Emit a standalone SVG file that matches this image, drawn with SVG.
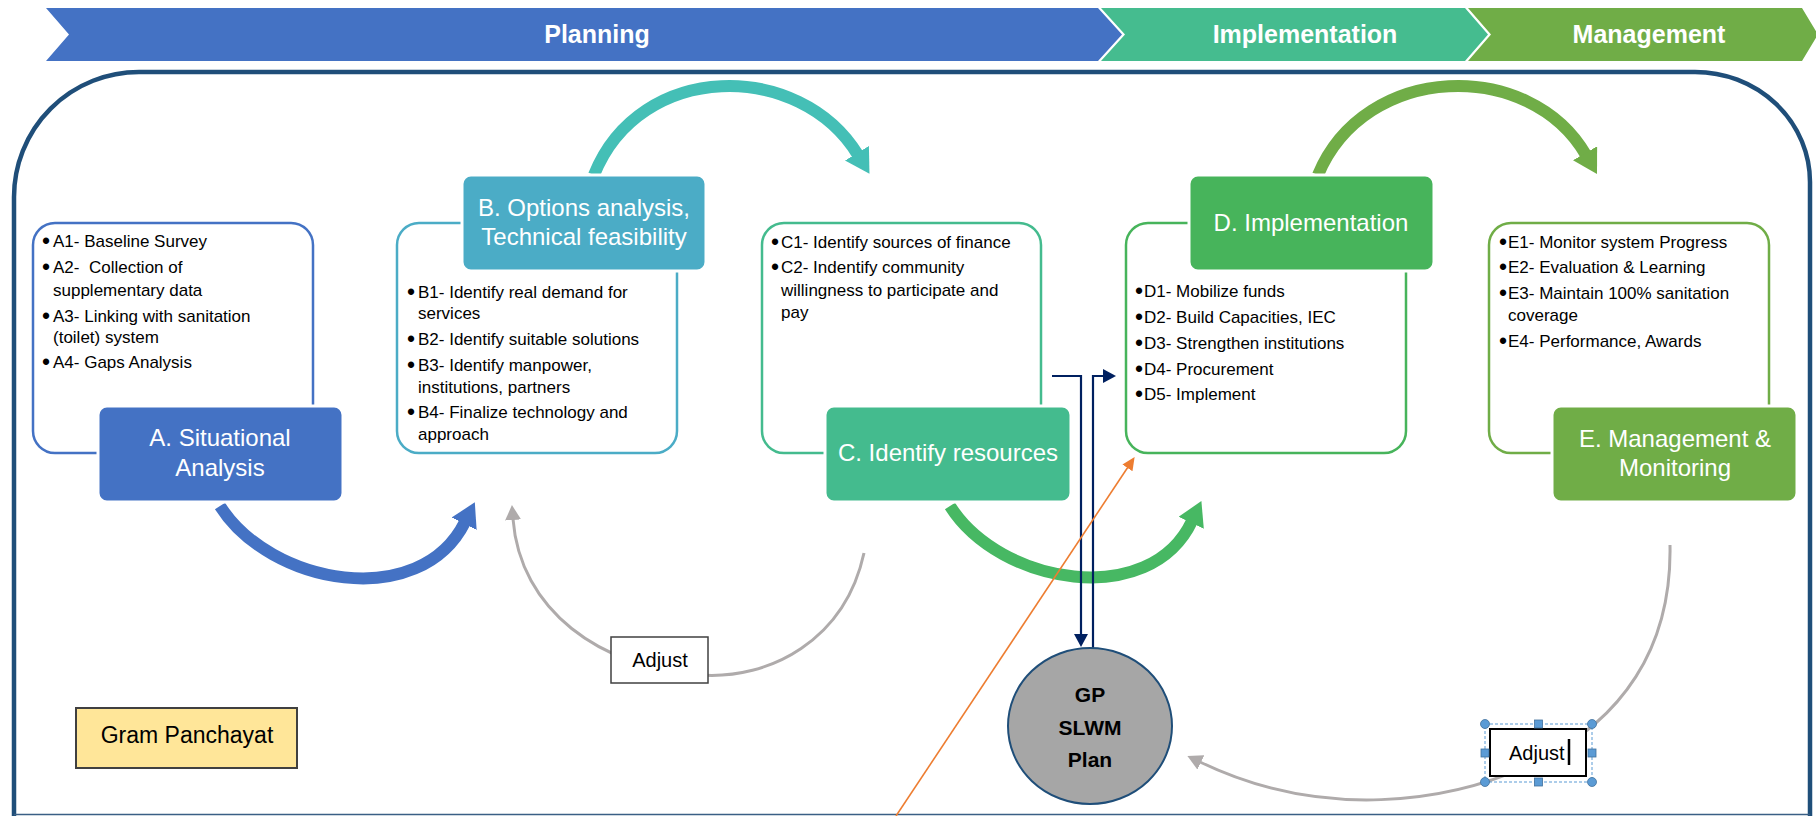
<svg xmlns="http://www.w3.org/2000/svg" width="1816" height="816" viewBox="0 0 1816 816">
<defs>
<style>
.bt{font-family:"Liberation Sans",Arial,sans-serif;font-weight:bold;font-size:25px;fill:#fff;text-anchor:middle}
.hd{font-family:"Liberation Sans",Arial,sans-serif;font-size:24px;fill:#fff;text-anchor:middle}
.li{font-family:"Liberation Sans",Arial,sans-serif;font-size:17px;fill:#000}
.bu{font-size:23px}
.det{fill:#fff;stroke-width:2.5}
.hdr{stroke:#fff;stroke-width:3}
.adj{font-family:"Liberation Sans",Arial,sans-serif;font-size:20px;fill:#000}
.gray{fill:none;stroke:#AFABAB;stroke-width:3}
.navy{fill:none;stroke:#002060;stroke-width:2.2}
</style>
<marker id="mBlue" markerUnits="userSpaceOnUse" markerWidth="26" markerHeight="28" refX="2" refY="14" orient="auto"><path d="M0,0 L24,14 L0,28 z" fill="#4472C4"/></marker>
<marker id="mTeal" markerUnits="userSpaceOnUse" markerWidth="26" markerHeight="28" refX="2" refY="14" orient="auto"><path d="M0,0 L24,14 L0,28 z" fill="#44BFB6"/></marker>
<marker id="mGreen" markerUnits="userSpaceOnUse" markerWidth="26" markerHeight="28" refX="2" refY="14" orient="auto"><path d="M0,0 L24,14 L0,28 z" fill="#47B863"/></marker>
<marker id="mLime" markerUnits="userSpaceOnUse" markerWidth="26" markerHeight="28" refX="2" refY="14" orient="auto"><path d="M0,0 L24,14 L0,28 z" fill="#70AD47"/></marker>
<marker id="mGray" markerUnits="userSpaceOnUse" markerWidth="16" markerHeight="16" refX="1" refY="8" orient="auto"><path d="M0,0 L15,8 L0,16 z" fill="#AFABAB"/></marker>
<marker id="mNavy" markerUnits="userSpaceOnUse" markerWidth="14" markerHeight="14" refX="1" refY="7" orient="auto"><path d="M0,0 L13,7 L0,14 z" fill="#002060"/></marker>
<marker id="mOrange" markerUnits="userSpaceOnUse" markerWidth="14" markerHeight="14" refX="1" refY="6" orient="auto"><path d="M0,0 L13,6 L0,12 z" fill="#ED7D31"/></marker>
</defs>
<rect width="1816" height="816" fill="#fff"/>

<g id="banner">
<g id="banner-planning"><polygon points="46,8 1098,8 1122,34.5 1098,61 46,61 69,34.5" fill="#4472C4"/><text class="bt" x="597" y="43">Planning</text></g>
<g id="banner-implementation"><polygon points="1101,8 1465,8 1488,34.5 1465,61 1101,61 1125,34.5" fill="#45BC8F"/><text class="bt" x="1305" y="43">Implementation</text></g>
<g id="banner-management"><polygon points="1468,8 1802,8 1818,34.5 1802,61 1468,61 1491,34.5" fill="#70AD47"/><text class="bt" x="1649" y="43">Management</text></g>
</g>

<g id="frame">
<path d="M 14 820 L 14 197 A 125 125 0 0 1 139 72 L 1695 72 A 115 110 0 0 1 1810 182 L 1810 820" fill="none" stroke="#1F4E79" stroke-width="4.5"/>
<line x1="14" y1="814.5" x2="1810" y2="814.5" stroke="#3A5F85" stroke-width="1.5"/>
</g>

<g id="connectors">
<path d="M 220 506 C 270 585, 420 612, 465 522" fill="none" stroke="#4472C4" stroke-width="12" marker-end="url(#mBlue)"/>
<path d="M 594 175 C 640 60, 800 60, 858 155" fill="none" stroke="#44BFB6" stroke-width="12" marker-end="url(#mTeal)"/>
<path d="M 950 506 C 1000 585, 1150 610, 1192 521" fill="none" stroke="#47B863" stroke-width="12" marker-end="url(#mGreen)"/>
<path d="M 1318 175 C 1365 62, 1530 58, 1586 155" fill="none" stroke="#70AD47" stroke-width="12" marker-end="url(#mLime)"/>
<path class="gray" d="M 864 553 C 845 640, 770 680, 700 675 C 600 668, 520 610, 513 519" marker-end="url(#mGray)"/>
<path class="gray" d="M 1670 545 C 1672 650, 1620 720, 1540 760 C 1450 805, 1320 820, 1200 762" marker-end="url(#mGray)"/>
<path class="navy" d="M 1052 376 L 1081 376 L 1081 635" marker-end="url(#mNavy)"/>
<path class="navy" d="M 1093 648 L 1093 376 L 1104 376" marker-end="url(#mNavy)"/>
<line x1="896" y1="816" x2="1128" y2="467" stroke="#ED7D31" stroke-width="1.6" marker-end="url(#mOrange)"/>
</g>

<g id="node-A">
<rect class="det" x="33" y="223" width="280" height="230" rx="22" stroke="#4472C4"/>
<text class="li"><tspan class="bu" x="42" y="249">•</tspan><tspan x="53" y="247">A1- Baseline Survey</tspan><tspan class="bu" x="42" y="275">•</tspan><tspan x="53" y="273">A2-&#160; Collection of</tspan><tspan x="53" y="296">supplementary data</tspan><tspan class="bu" x="42" y="324">•</tspan><tspan x="53" y="322">A3- Linking with sanitation</tspan><tspan x="53" y="343">(toilet) system</tspan><tspan class="bu" x="42" y="370">•</tspan><tspan x="53" y="368">A4- Gaps Analysis</tspan></text>
<rect class="hdr" x="98" y="406" width="245" height="96" rx="9" fill="#4472C4"/>
<text class="hd" x="220" y="446">A. Situational</text>
<text class="hd" x="220" y="476">Analysis</text>
</g>

<g id="node-B">
<rect class="det" x="397" y="223" width="280" height="230" rx="22" stroke="#4BACC6"/>
<text class="li"><tspan class="bu" x="407" y="300">•</tspan><tspan x="418" y="298">B1- Identify real demand for</tspan><tspan x="418" y="319">services</tspan><tspan class="bu" x="407" y="347">•</tspan><tspan x="418" y="345">B2- Identify suitable solutions</tspan><tspan class="bu" x="407" y="373">•</tspan><tspan x="418" y="371">B3- Identify manpower,</tspan><tspan x="418" y="393">institutions, partners</tspan><tspan class="bu" x="407" y="420">•</tspan><tspan x="418" y="418">B4- Finalize technology and</tspan><tspan x="418" y="440">approach</tspan></text>
<rect class="hdr" x="462" y="175" width="244" height="96" rx="9" fill="#4BACC6"/>
<text class="hd" x="584" y="216">B. Options analysis,</text>
<text class="hd" x="584" y="245">Technical feasibility</text>
</g>

<g id="node-C">
<rect class="det" x="762" y="223" width="279" height="230" rx="22" stroke="#44BB8E"/>
<text class="li"><tspan class="bu" x="771" y="250">•</tspan><tspan x="781" y="248">C1- Identify sources of finance</tspan><tspan class="bu" x="771" y="275">•</tspan><tspan x="781" y="273">C2- Indentify community</tspan><tspan x="781" y="296">willingness to participate and</tspan><tspan x="781" y="318">pay</tspan></text>
<rect class="hdr" x="825" y="406" width="246" height="96" rx="9" fill="#44BB8E"/>
<text class="hd" x="948" y="461">C. Identify resources</text>
</g>

<g id="node-D">
<rect class="det" x="1126" y="223" width="280" height="230" rx="22" stroke="#47B45B"/>
<text class="li"><tspan class="bu" x="1135" y="299">•</tspan><tspan x="1144" y="297">D1- Mobilize funds</tspan><tspan class="bu" x="1135" y="325">•</tspan><tspan x="1144" y="323">D2- Build Capacities, IEC</tspan><tspan class="bu" x="1135" y="351">•</tspan><tspan x="1144" y="349">D3- Strengthen institutions</tspan><tspan class="bu" x="1135" y="377">•</tspan><tspan x="1144" y="375">D4- Procurement</tspan><tspan class="bu" x="1135" y="402">•</tspan><tspan x="1144" y="400">D5- Implement</tspan></text>
<rect class="hdr" x="1189" y="175" width="245" height="96" rx="9" fill="#47B45B"/>
<text class="hd" x="1311" y="231">D. Implementation</text>
</g>

<g id="node-E">
<rect class="det" x="1489" y="223" width="280" height="230" rx="22" stroke="#70AD47"/>
<text class="li"><tspan class="bu" x="1499" y="250">•</tspan><tspan x="1508" y="248">E1- Monitor system Progress</tspan><tspan class="bu" x="1499" y="275">•</tspan><tspan x="1508" y="273">E2- Evaluation &amp; Learning</tspan><tspan class="bu" x="1499" y="301">•</tspan><tspan x="1508" y="299">E3- Maintain 100% sanitation</tspan><tspan x="1508" y="321">coverage</tspan><tspan class="bu" x="1499" y="349">•</tspan><tspan x="1508" y="347">E4- Performance, Awards</tspan></text>
<rect class="hdr" x="1552" y="406" width="245" height="96" rx="9" fill="#70AD47"/>
<text class="hd" x="1675" y="447">E. Management &amp;</text>
<text class="hd" x="1675" y="476">Monitoring</text>
</g>

<g id="node-adjust-1">
<rect x="611" y="637" width="97" height="46" fill="#fff" stroke="#404040" stroke-width="1.5"/>
<text class="adj" x="660" y="667" text-anchor="middle">Adjust</text>
</g>

<g id="node-adjust-2">
<rect x="1490" y="729" width="96" height="47" fill="#fff" stroke="#000" stroke-width="2"/>
<text class="adj" x="1509" y="760">Adjust</text>
<line x1="1569" y1="739" x2="1569" y2="765" stroke="#000" stroke-width="2.5"/>
<rect x="1485" y="724" width="107" height="58" fill="none" stroke="#5B9BD5" stroke-width="1" stroke-dasharray="3 2"/>
<g fill="#5B9BD5" stroke="#41719C" stroke-width="0.8">
<circle cx="1485" cy="724" r="4.5"/><circle cx="1592" cy="724" r="4.5"/><circle cx="1485" cy="782" r="4.5"/><circle cx="1592" cy="782" r="4.5"/>
<rect x="1534.5" y="720" width="8" height="8"/><rect x="1534.5" y="778" width="8" height="8"/><rect x="1481" y="749" width="8" height="8"/><rect x="1588" y="749" width="8" height="8"/>
</g>
</g>

<g id="node-gp">
<ellipse cx="1090" cy="726" rx="82" ry="78" fill="#A6A6A6" stroke="#1F4E79" stroke-width="2"/>
<g font-family="'Liberation Sans',Arial,sans-serif" font-weight="bold" font-size="21" fill="#000" text-anchor="middle">
<text x="1090" y="702">GP</text><text x="1090" y="735">SLWM</text><text x="1090" y="767">Plan</text>
</g>
</g>

<g id="node-gram-panchayat">
<rect x="76" y="708" width="221" height="60" fill="#FFE699" stroke="#404040" stroke-width="2"/>
<text x="187" y="743" text-anchor="middle" font-family="'Liberation Sans',Arial,sans-serif" font-size="23" fill="#000">Gram Panchayat</text>
</g>
</svg>
